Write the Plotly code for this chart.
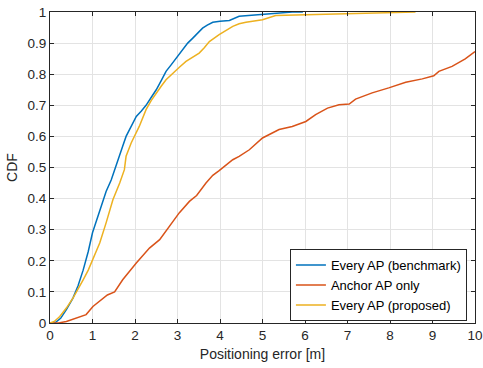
import plotly.graph_objects as go

# Every AP (benchmark)
bench_x = [0.0, 0.11, 0.25, 0.385, 0.54, 0.66, 0.78, 0.9, 1.0, 1.17, 1.32, 1.44, 1.52, 1.6, 1.71, 1.79, 1.9, 2.03, 2.15, 2.26, 2.38, 2.5, 2.62, 2.73, 2.85, 2.97, 3.12, 3.24, 3.36, 3.48, 3.59, 3.7, 3.83, 4.0, 4.22, 4.45, 4.7, 5.0, 5.2, 5.47, 5.7, 5.95]
bench_y = [0.0, 0.0, 0.015, 0.043, 0.08, 0.12, 0.17, 0.23, 0.29, 0.364, 0.423, 0.46, 0.493, 0.53, 0.568, 0.60, 0.63, 0.664, 0.682, 0.70, 0.725, 0.75, 0.78, 0.809, 0.83, 0.852, 0.879, 0.90, 0.916, 0.933, 0.948, 0.958, 0.967, 0.970, 0.973, 0.986, 0.989, 0.994, 0.996, 0.999, 1.0, 1.0]

# Anchor AP only
anchor_x = [0.0, 0.2, 0.385, 0.62, 0.85, 1.01, 1.24, 1.35, 1.52, 1.71, 2.03, 2.34, 2.58, 2.81, 3.04, 3.28, 3.45, 3.67, 3.83, 3.98, 4.3, 4.45, 4.69, 5.0, 5.2, 5.39, 5.7, 6.02, 6.25, 6.53, 6.8, 7.04, 7.19, 7.58, 7.97, 8.37, 8.76, 9.03, 9.15, 9.46, 9.77, 10.0]
anchor_y = [0.0, 0.0, 0.005, 0.016, 0.027, 0.053, 0.08, 0.09, 0.10, 0.139, 0.193, 0.241, 0.268, 0.31, 0.354, 0.391, 0.41, 0.45, 0.475, 0.49, 0.525, 0.536, 0.557, 0.595, 0.61, 0.622, 0.632, 0.648, 0.67, 0.691, 0.702, 0.704, 0.72, 0.74, 0.756, 0.774, 0.785, 0.795, 0.809, 0.825, 0.849, 0.873]

# Every AP (proposed)
prop_x = [0.0, 0.1, 0.23, 0.385, 0.54, 0.66, 0.78, 0.9, 1.01, 1.17, 1.32, 1.48, 1.64, 1.75, 1.79, 1.91, 2.1, 2.26, 2.38, 2.5, 2.62, 2.73, 2.93, 3.05, 3.2, 3.35, 3.51, 3.63, 3.75, 3.98, 4.15, 4.3, 4.45, 4.61, 5.0, 5.15, 5.31, 6.02, 7.04, 7.98, 8.3, 8.6]
prop_y = [0.0, 0.005, 0.021, 0.048, 0.08, 0.108, 0.139, 0.17, 0.204, 0.257, 0.322, 0.396, 0.45, 0.493, 0.536, 0.579, 0.632, 0.686, 0.715, 0.74, 0.762, 0.782, 0.809, 0.823, 0.841, 0.855, 0.868, 0.885, 0.905, 0.927, 0.942, 0.954, 0.962, 0.967, 0.975, 0.983, 0.989, 0.991, 0.995, 0.997, 0.999, 1.0]

x_ticks = [0, 1, 2, 3, 4, 5, 6, 7, 8, 9, 10]
y_ticks = [0, 0.1, 0.2, 0.3, 0.4, 0.5, 0.6, 0.7, 0.8, 0.9, 1]
y_labels = ["0", "0.1", "0.2", "0.3", "0.4", "0.5", "0.6", "0.7", "0.8", "0.9", "1"]

fig = go.Figure()
fig.add_trace(go.Scatter(x=bench_x, y=bench_y, mode="lines", name="Every AP (benchmark)",
                         line=dict(color="#0072BD", width=1.5)))
fig.add_trace(go.Scatter(x=anchor_x, y=anchor_y, mode="lines", name="Anchor AP only",
                         line=dict(color="#D95319", width=1.5)))
fig.add_trace(go.Scatter(x=prop_x, y=prop_y, mode="lines", name="Every AP (proposed)",
                         line=dict(color="#EDB120", width=1.5)))

axis_common = dict(showgrid=True, gridcolor="#e3e3e3", gridwidth=1,
                   showline=True, linecolor="#262626", linewidth=1, mirror="ticks",
                   ticks="inside", ticklen=4, tickcolor="#262626", zeroline=False,
                   tickfont=dict(size=13.5, color="#262626"), automargin=False,
                   ticklabeloverflow="allow")

fig.update_xaxes(range=[0, 10], tickvals=x_ticks,
                 title=dict(text="Positioning error [m]", font=dict(size=14, color="#262626"), standoff=6),
                 **axis_common)
fig.update_yaxes(range=[0, 1], tickvals=y_ticks, ticktext=y_labels,
                 title=dict(text="CDF", font=dict(size=14, color="#262626"), standoff=6),
                 **axis_common)

fig.update_layout(
    width=483, height=368,
    margin=dict(l=50, r=8, t=12, b=45),
    paper_bgcolor="white", plot_bgcolor="white",
    font=dict(family="Liberation Sans, Arial, sans-serif", size=13.5, color="#262626"),
    showlegend=True,
    legend=dict(x=0.981, y=0.006, xanchor="right", yanchor="bottom",
                bgcolor="white", bordercolor="#262626", borderwidth=1,
                font=dict(size=13, color="#000000"), tracegroupgap=0,
                itemwidth=30),
)

fig.write_html("out.html", config={"displayModeBar": False},
               post_script="document.body.style.margin='0';")
